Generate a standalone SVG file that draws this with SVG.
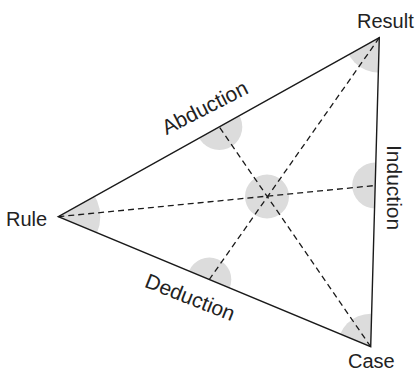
<svg xmlns="http://www.w3.org/2000/svg" width="415" height="372" viewBox="0 0 415 372">
<style>
.lbl{font-family:"Liberation Sans",Arial,Helvetica,sans-serif;font-size:20px;fill:#222}
.elbl{font-family:"Liberation Sans",Arial,Helvetica,sans-serif;font-size:21px;fill:#222}
.side{fill:none;stroke:#1a1a1a;stroke-width:1.4;stroke-linejoin:miter}
.dash{fill:none;stroke:#1a1a1a;stroke-width:1.3;stroke-dasharray:6 4}
.shade{fill:#dcdcdc}
</style>
<defs>
<clipPath id="tri"><polygon points="379.3,37.7 58.3,216.7 370.7,346.7"/></clipPath>
</defs>
<rect width="415" height="372" fill="#fff"/>
<g id="shading" clip-path="url(#tri)">
<circle class="shade" cx="379.3" cy="37.7" r="35"/>
<circle class="shade" cx="58.3" cy="216.7" r="42"/>
<circle class="shade" cx="370.7" cy="346.7" r="33"/>
<circle class="shade" cx="219.3" cy="126.9" r="23"/>
<circle class="shade" cx="209.3" cy="279.5" r="22"/>
<circle class="shade" cx="375.2" cy="185.5" r="23"/>
<circle class="shade" cx="267" cy="196.5" r="22"/>
</g>
<g id="connectors">
<line class="dash" x1="58.3" y1="216.7" x2="375.2" y2="185.5"/>
<line class="dash" x1="379.3" y1="37.7" x2="209.3" y2="279.5"/>
<line class="dash" x1="370.7" y1="346.7" x2="219.3" y2="126.9"/>
<polygon class="side" points="379.3,37.7 58.3,216.7 370.7,346.7"/>
<text class="elbl" transform="translate(208,114) rotate(-27)" text-anchor="middle">Abduction</text>
<text class="elbl" transform="translate(187.5,304) rotate(21.6)" text-anchor="middle">Deduction</text>
<text class="elbl" transform="translate(386.7,145) rotate(90)">Induction</text>
</g>
<g id="result"><text class="lbl" x="357" y="28">Result</text></g>
<g id="rule"><text class="lbl" x="6" y="226">Rule</text></g>
<g id="case"><text class="lbl" x="348" y="368">Case</text></g>
</svg>
